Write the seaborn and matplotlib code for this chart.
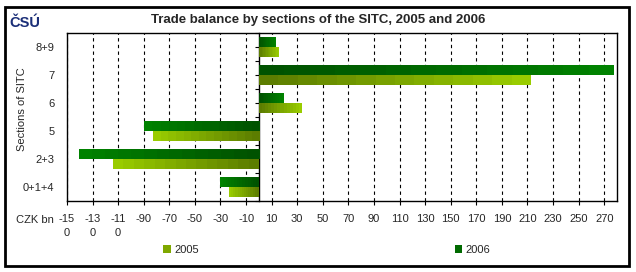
import numpy as np
import pandas as pd
import seaborn as sns
import matplotlib.pyplot as plt
from matplotlib.colors import LinearSegmentedColormap
from matplotlib.patches import Patch, Rectangle

sections = ['8+9', '7', '6', '5', '2+3', '0+1+4']
years = ['2005', '2006']
balance_2005 = [15, 212, 33, -83, -114, -23]
balance_2006 = [13, 277, 19, -90, -141, -30]

xticks = [-150, -130, -110, -90, -70, -50, -30, -10, 10, 30, 50,
          70, 90, 110, 130, 150, 170, 190, 210, 230, 250, 270]
xtick_labels = ['-15\n0', '-13\n0', '-11\n0', '-90', '-70', '-50', '-30', '-10',
                '10', '30', '50', '70', '90', '110', '130', '150', '170', '190',
                '210', '230', '250', '270']
# section boundaries + centres, for the little ticks on the zero line
ytick_pos = [-0.5, 0, 0.5, 1, 1.5, 2, 2.5, 3, 3.5, 4, 4.5, 5, 5.5]

# dark near zero -> bright at the bar end
ramps = {'2005': ('#5c7d00', '#99cc00'), '2006': ('#005200', '#008200')}

sns.set_style('white')
plt.rcParams['font.family'] = ['Liberation Sans', 'DejaVu Sans']
plt.rcParams['font.size'] = 8

df = pd.DataFrame({
    'section': sections * 2,
    'value': balance_2005 + balance_2006,
    'year': ['2005'] * len(sections) + ['2006'] * len(sections),
})

fig = plt.figure(figsize=(6.36, 2.72), dpi=100)
ax = fig.add_axes([67 / 636, 1 - 201 / 272, 550 / 636, 168 / 272])

hue_order = ['2006', '2005']
sns.barplot(data=df, x='value', y='section', hue='year', hue_order=hue_order,
            order=sections, orient='h', width=0.68, errorbar=None,
            palette={y: ramps[y][1] for y in years}, legend=False, ax=ax)

# gradient fill for every bar
for year, bars in zip(hue_order, ax.containers):
    cmap = LinearSegmentedColormap.from_list('g' + year, ramps[year])
    for bar in bars:
        x0 = bar.get_x()
        x1 = x0 + bar.get_width()
        y0 = bar.get_y()
        y1 = y0 + bar.get_height()
        grad = np.linspace(0, 1, 14)[None, :]
        if x1 < x0:
            grad = grad[:, ::-1]
        ax.imshow(grad, cmap=cmap, extent=[min(x0, x1), max(x0, x1), y1, y0],
                  aspect='auto', interpolation='nearest', zorder=2)
        bar.set_visible(False)

xmin, xmax = -150, 280
ax.set_xlim(xmin, xmax)
ax.set_ylim(5.5, -0.5)
ax.set_xticks(xticks)
ax.set_xticklabels(xtick_labels)
for lbl in ax.get_xticklabels():
    lbl.set_linespacing(1.55)
ax.set_xlabel('')
ax.set_ylabel('')

ax.xaxis.grid(True, color='black', linestyle=(0, (3, 3)), linewidth=0.8)
ax.yaxis.grid(False)
ax.set_axisbelow(True)
for sp in ax.spines.values():
    sp.set_color('black')
    sp.set_linewidth(1)
ax.tick_params(axis='x', direction='out', length=3, width=0.8, color='black',
               pad=6, labelsize=8, bottom=True)
ax.tick_params(axis='y', length=0, pad=9, labelsize=8)

# zero line with its own small ticks
sec = ax.secondary_yaxis((0 - xmin) / (xmax - xmin))
sec.set_yticks(ytick_pos)
sec.tick_params(direction='out', length=3, width=0.8, color='black',
                labelleft=False, labelright=False)
for sp in sec.spines.values():
    sp.set_color('black')
    sp.set_linewidth(1)

fig.text(54 / 636, 1 - 220 / 272, 'CZK bn', ha='right', va='center', fontsize=8)
fig.text(22 / 636, 1 - 109 / 272, 'Sections of SITC', rotation=90,
         ha='center', va='center', fontsize=8)
fig.text(318 / 636, 1 - 20 / 272,
         'Trade balance by sections of the SITC, 2005 and 2006',
         ha='center', va='center', fontsize=9.5, fontweight='bold')
fig.text(25 / 636, 1 - 23 / 272, 'ČSÚ', ha='center', va='center', fontsize=10.5,
         fontweight='bold', color='#1b2f78')

handles = [Patch(facecolor='#7fa800', edgecolor='none'),
           Patch(facecolor='#006a00', edgecolor='none')]
fig.legend(handles, years, loc='center', bbox_to_anchor=(327 / 636, 1 - 250 / 272),
           ncol=2, frameon=False, fontsize=8, handlelength=0.7, handleheight=0.7,
           handletextpad=0.3, columnspacing=23)

fig.patches.append(Rectangle((5 / 636, 6 / 272), 624 / 636, 259 / 272,
                             transform=fig.transFigure, fill=False,
                             edgecolor='black', linewidth=2))

fig.savefig('out.png', dpi=100)
